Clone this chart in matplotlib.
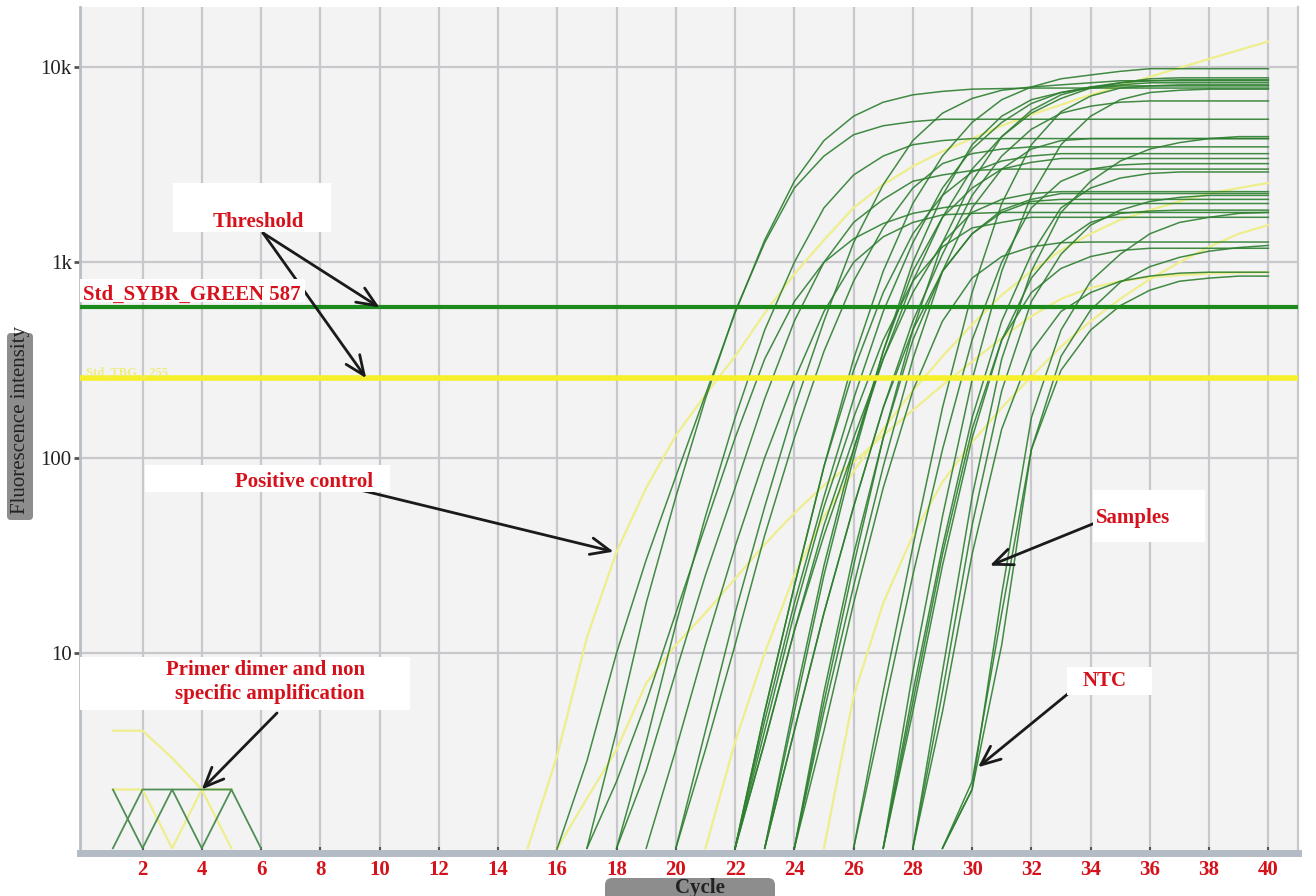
import numpy as np
import matplotlib
matplotlib.use("Agg")
import matplotlib.pyplot as plt
from matplotlib.patches import Rectangle, FancyBboxPatch
from matplotlib.ticker import NullLocator
from matplotlib.transforms import Affine2D

# amplification curves: first cycle of each curve, then fluorescence per cycle up to cycle 40
green_start = [16, 17, 17, 18, 18, 19, 20, 20,
               22, 22, 22, 22, 22, 22, 23, 23, 23, 23,
               24, 24, 24, 24, 26, 26, 27, 27, 27, 27,
               28, 28, 28, 29, 29, 29]
green_curves = [
    [1, 2.8, 10, 30, 80, 210, 550, 1300, 2600, 4200, 5600, 6600, 7200, 7500, 7700, 7750,
     7800, 7800, 7800, 7800, 7800, 7800, 7800, 7800, 7800],
    [1, 4, 18, 63, 200, 560, 1260, 2400, 3500, 4500, 5000, 5250,
     5400, 5400, 5400, 5400, 5400, 5400, 5400, 5400, 5400, 5400, 5400, 5400],
    [1, 2.2, 5.6, 16, 45, 126, 320, 630, 1000, 1320, 1580, 1780, 1900, 2000,
     2000, 2000, 2000, 2000, 2000, 2000, 2000, 2000, 2000, 2000],
    [1, 3.5, 14, 50, 160, 450, 1000, 1900, 2800, 3500, 4000, 4200, 4300,
     4300, 4300, 4300, 4300, 4300, 4300, 4300, 4300, 4300, 4300],
    [1, 2.5, 8, 25, 70, 200, 500, 1000, 1600, 2100, 2600, 2800, 2950,
     3000, 3000, 3000, 3000, 3000, 3000, 3000, 3000, 3000, 3000],
    [1, 3.2, 11, 35, 100, 250, 560, 1000, 1350, 1600, 1750, 1780, 1800,
     1800, 1800, 1800, 1800, 1800, 1800, 1800, 1800, 1800],
    [1, 4, 16, 56, 180, 500, 1260, 2500, 4200, 5800, 6900, 7600, 7900, 8100, 8300, 8500,
     8500, 8500, 8500, 8500, 8500],
    [1, 3.2, 11, 40, 126, 350, 800, 1500, 2400, 3200, 3600, 3800, 3900,
     3900, 3900, 3900, 3900, 3900, 3900, 3900, 3900],
    [1, 5, 22, 90, 320, 900, 2000, 3500, 5200, 6800, 7900, 8700, 9100, 9500, 9800,
     9800, 9800, 9800, 9800],
    [1, 3.5, 13, 40, 110, 320, 800, 1700, 3000, 4400, 5800, 6900, 7800, 8300, 8700,
     8800, 8800, 8800, 8800],
    [1, 4.5, 18, 63, 200, 560, 1260, 2400, 3800, 5200, 6500, 7400, 7900, 8100, 8300,
     8300, 8300, 8300, 8300],
    [1, 5, 22, 90, 280, 700, 1400, 2200, 2900, 3300, 3500, 3600,
     3600, 3600, 3600, 3600, 3600, 3600, 3600],
    [1, 3.5, 13, 45, 126, 320, 700, 1260, 1800, 2100, 2250, 2300,
     2300, 2300, 2300, 2300, 2300, 2300, 2300],
    [1, 4, 16, 56, 160, 400, 800, 1200, 1500, 1600, 1700,
     1700, 1700, 1700, 1700, 1700, 1700, 1700, 1700],
    [1, 5, 25, 100, 350, 1000, 2200, 4000, 5600, 6800, 7400, 7800, 8000,
     8000, 8000, 8000, 8000, 8000],
    [1, 4, 16, 56, 180, 500, 1100, 2200, 3500, 4800, 5800, 6300, 6600, 6700,
     6700, 6700, 6700, 6700],
    [1, 5.6, 28, 110, 350, 900, 1700, 2400, 3000, 3250, 3400,
     3400, 3400, 3400, 3400, 3400, 3400, 3400],
    [1, 4, 16, 56, 180, 450, 900, 1400, 1850, 2100, 2250,
     2250, 2250, 2250, 2250, 2250, 2250, 2250],
    [1, 5.6, 28, 126, 450, 1260, 2600, 4400, 6000, 7200, 7900, 8300, 8500,
     8600, 8600, 8600, 8600],
    [1, 5, 22, 90, 320, 900, 1900, 3000, 3800, 4200, 4300,
     4300, 4300, 4300, 4300, 4300, 4300],
    [1, 6.3, 32, 126, 400, 900, 1400, 1800, 2050, 2100,
     2100, 2100, 2100, 2100, 2100, 2100, 2100],
    [1, 4, 18, 70, 220, 500, 830, 1070, 1200, 1260,
     1270, 1270, 1270, 1270, 1270, 1270, 1270],
    [1, 6.3, 35, 180, 700, 2000, 4000, 5900, 7100, 7800, 8000, 8100, 8100, 8100, 8100],
    [1, 5, 25, 110, 400, 1000, 1900, 2600, 3000, 3150, 3200, 3200, 3200, 3200, 3200],
    [1, 8, 50, 250, 900, 2200, 4000, 5600, 6800, 7400, 7600, 7700, 7700, 7700],
    [1, 6.3, 35, 160, 500, 1100, 1900, 2400, 2700, 2850, 2900, 2900, 2900, 2900],
    [1, 5, 28, 126, 400, 830, 1260, 1600, 1780, 1830, 1850, 1850, 1850, 1850],
    [1, 5.6, 32, 140, 400, 700, 930, 1070, 1150, 1180, 1180, 1180, 1180, 1180],
    [1, 8, 63, 320, 900, 1800, 2600, 3300, 3800, 4100, 4300, 4400, 4400],
    [1, 6.3, 45, 220, 630, 1100, 1550, 1850, 2050, 2150, 2200, 2200, 2200],
    [1, 5, 32, 140, 350, 560, 700, 800, 850, 880, 890, 890, 890],
    [1, 2, 20, 160, 450, 800, 1100, 1400, 1600, 1700, 1780, 1800],
    [1, 2, 11, 110, 330, 570, 790, 950, 1060, 1140, 1190, 1220],
    [1, 2.2, 16, 110, 280, 450, 600, 720, 800, 830, 850, 850],
]

yellow_start = [15, 16, 21, 25]
yellow_curves = [
    [1, 3, 12, 33, 70, 130, 210, 330, 550, 870, 1300, 1900, 2500, 3100, 3700, 4300,
     5000, 5700, 6400, 7200, 8000, 8900, 9900, 11000, 12200, 13500],
    [1, 1.8, 3.2, 7, 11, 16, 24, 36, 52, 72, 95, 130, 175, 235, 310, 410, 530, 650,
     740, 800, 840, 860, 875, 885, 890],
    [1, 3.5, 10, 25, 50, 85, 140, 220, 330, 480, 680, 900, 1150, 1400, 1650, 1850,
     2050, 2250, 2400, 2550],
    [1, 6, 18, 40, 75, 120, 180, 260, 370, 500, 650, 820, 1000, 1200, 1400, 1550],
]

# primer dimer / non specific signal in the first cycles
dimer_cycles = [1, 2, 3, 4, 5, 6]
dimer_green = [[2, 1, 2, 1, 2, 1], [1, 2, 2, 2, 2]]
dimer_yellow = [[4, 4, 2.9, 2, 1], [2, 2, 1, 2, 2]]

thr_green = 587
thr_yellow = 255

x_ticks = list(range(2, 41, 2))
y_ticks = [10, 100, 1000, 10000]
y_labels = ["10", "100", "1k", "10k"]

RED = "#d5121c"
GREEN = "#2e7f30"
YELLOW = "#eeee8c"
SERIF = "Liberation Serif"

W, H = 1316, 896
fig = plt.figure(figsize=(W / 100, H / 100), dpi=100)
pix = Affine2D().scale(1 / 100) + fig.dpi_scale_trans


def ff(x, y):
    # picture pixel (top-left origin) -> figure fraction
    return x / W, 1 - y / H


ax = fig.add_axes([80 / W, 1 - 853 / H, (1298 - 80) / W, (853 - 7) / H])
ax.set_facecolor("#f3f3f3")
ax.set_yscale("log")
ax.set_xlim(-0.11, 41.0)
ax.set_ylim(0.946, 20280)

for s, vals in zip(yellow_start, yellow_curves):
    ax.plot(np.arange(s, s + len(vals)), vals, color=YELLOW, lw=1.6, zorder=2)
for vals in dimer_yellow:
    ax.plot(dimer_cycles[:len(vals)], vals, color=YELLOW, lw=1.6, zorder=2)
for s, vals in zip(green_start, green_curves):
    ax.plot(np.arange(s, s + len(vals)), vals, color=GREEN, lw=1.1, alpha=0.9, zorder=2)
for vals in dimer_green:
    ax.plot(dimer_cycles[:len(vals)], vals, color="#4f8f55", lw=1.3, zorder=2)

ax.axhline(thr_green, color="#1c8a1c", lw=3, zorder=3)
ax.axhline(thr_yellow, color="#f6f02a", lw=4, zorder=3)

ax.set_xticks(x_ticks)
ax.set_xticklabels([str(t) for t in x_ticks], color=RED, fontweight="bold",
                   fontsize=15, fontfamily=SERIF)
ax.set_yticks(y_ticks)
ax.set_yticklabels(y_labels, fontsize=15, fontfamily=SERIF, color="#222222")
ax.yaxis.set_minor_locator(NullLocator())
ax.tick_params(axis="x", direction="in", length=4, width=1.5, color="#555555", pad=5)
ax.tick_params(axis="y", direction="out", length=4, width=2, color="#555555", pad=2)
ax.grid(True, color="#c8c8cc", lw=1.6)
ax.set_axisbelow(True)
ax.spines["top"].set_visible(False)
ax.spines["right"].set_color("#c8c8cc")
ax.spines["right"].set_linewidth(1.6)
ax.spines["left"].set_color("#b8bec6")
ax.spines["left"].set_linewidth(2)
ax.spines["bottom"].set_color("#b3bbc5")
ax.spines["bottom"].set_linewidth(5)


def white_box(x0, y0, x1, y1):
    fig.add_artist(Rectangle((x0, H - y1), x1 - x0, y1 - y0, transform=pix,
                             facecolor="white", edgecolor="none", zorder=5))


def gray_box(x0, y0, x1, y1, r):
    fig.add_artist(FancyBboxPatch((x0, H - y1), x1 - x0, y1 - y0, transform=pix,
                                  boxstyle=f"round,pad=0,rounding_size={r}",
                                  facecolor="#8d8d8d", edgecolor="none", zorder=5))


def label(x, y, s, ha="left", **kw):
    fig.text(*ff(x, y), s, ha=ha, va="baseline", color=RED, fontweight="bold",
             fontsize=15, fontfamily=SERIF, zorder=6, **kw)


def arrow(x, y, cyc, val):
    ax.annotate("", xy=(cyc, val), xycoords="data", xytext=ff(x, y),
                textcoords="figure fraction", annotation_clip=False,
                arrowprops=dict(arrowstyle="->,head_length=0.7,head_width=0.3",
                                color="#1a1a1a", lw=2, mutation_scale=20,
                                shrinkA=0, shrinkB=0), zorder=4)


white_box(173, 183, 331, 232)
label(213, 227, "Threshold")
white_box(80, 279, 305, 302)
label(83, 300, "Std_SYBR_GREEN 587")
fig.text(*ff(86, 375), "Std_TBG _ 255", ha="left", va="baseline", color="#eeec80",
         fontsize=9, fontfamily=SERIF, fontweight="bold", zorder=6)
white_box(145, 465, 390, 492)
label(235, 487, "Positive control")
white_box(80, 657, 410, 710)
label(365, 675, "Primer dimer and non", ha="right")
label(365, 699, "specific amplification", ha="right")
white_box(1093, 490, 1205, 542)
label(1096, 523, "Samples")
white_box(1067, 667, 1152, 695)
label(1083, 686, "NTC")

arrow(263, 233, 10.0, thr_green)
arrow(263, 233, 9.55, thr_yellow)
arrow(360, 490, 17.9, 33)
arrow(277, 713, 4.0, 2)
arrow(1095, 523, 30.6, 28)
arrow(1075, 688, 30.2, 2.6)

gray_box(7, 333, 33, 520, 4)
fig.text(*ff(21, 420), "Fluorescence intensity", rotation=90, ha="center", va="center",
         fontsize=15, fontfamily=SERIF, color="#222222", zorder=6)
gray_box(605, 878, 775, 906, 7)
fig.text(*ff(700, 888), "Cycle", ha="center", va="center", fontsize=15,
         fontfamily=SERIF, fontweight="bold", color="#222222", zorder=6)

fig.savefig("out.png", dpi=100)
